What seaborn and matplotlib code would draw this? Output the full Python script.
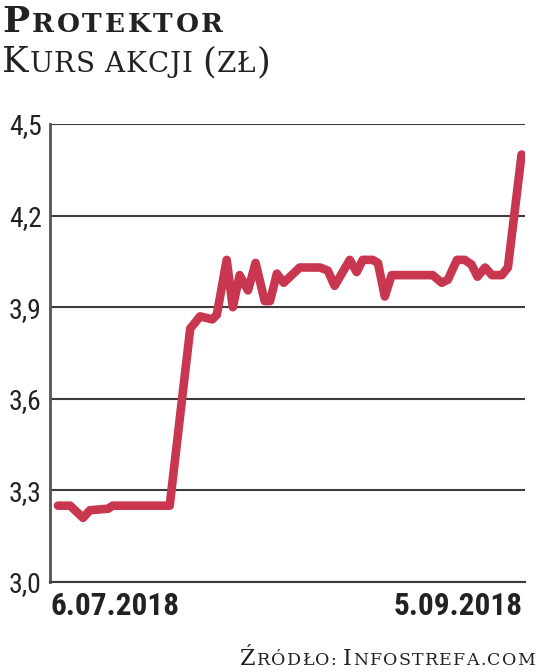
import matplotlib
matplotlib.use("Agg")
import matplotlib.pyplot as plt
import seaborn as sns
import pandas as pd

# ==========================================
# DATA  (days since 6.07.2018, share price in zl)
# ==========================================

days = [0.0, 1.6, 3.3, 4.2, 6.6, 7.2, 14.7, 17.4, 18.7, 20.3,
        20.9, 22.2, 23.0, 23.9, 25.0, 26.0, 27.2, 27.9, 28.8, 29.7,
        31.8, 34.5, 35.5, 36.4, 38.4, 39.3, 40.1, 41.4, 42.1, 43.0,
        43.9, 49.3, 50.5, 51.3, 52.5, 53.5, 54.4, 55.2, 56.2, 57.1,
        58.4, 59.2, 61.0]
price = [3.25, 3.25, 3.21, 3.235, 3.24, 3.25, 3.25, 3.83, 3.87, 3.86,
         3.875, 4.055, 3.90, 4.005, 3.955, 4.045, 3.92, 3.92, 4.01, 3.98,
         4.03, 4.03, 4.02, 3.97, 4.055, 4.015, 4.055, 4.055, 4.045, 3.935,
         4.005, 4.005, 3.98, 3.99, 4.055, 4.055, 4.04, 4.0, 4.03, 4.005,
         4.005, 4.03, 4.40]

y_ticks = [3.0, 3.3, 3.6, 3.9, 4.2, 4.5]
date_first = "6.07.2018"
date_last = "5.09.2018"

df = pd.DataFrame({"day": days, "price": price})

# ==========================================
# STYLE
# ==========================================

sns.set_style("white")
NARROW = ["Roboto Condensed", "DejaVu Sans"]
SERIF = ["DejaVu Serif"]
LINE_RED = "#c8364f"
GRID = "#3c3c3c"
INK = "#222222"

W, H = 536, 672
fig = plt.figure(figsize=(W / 100, H / 100), dpi=100)
ax = fig.add_axes([50 / W, 1 - 582 / H, 475 / W, 458 / H])

sns.lineplot(data=df, x="day", y="price", ax=ax, color=LINE_RED,
             linewidth=6.2, solid_capstyle="round", solid_joinstyle="round",
             zorder=3)

ax.set_xlim(-1.05, 61.45)
ax.set_ylim(3.0, 4.5)
ax.set_yticks(y_ticks)
ax.set_yticklabels([f"{v:.1f}".replace(".", ",") for v in y_ticks],
                   family=NARROW, stretch="condensed", fontsize=20, color=INK)
ax.set_xticks([])
ax.tick_params(axis="both", length=0)
ax.tick_params(axis="y", pad=6)
ax.set_xlabel("")
ax.set_ylabel("")

# first / last date under the axis ends
date_style = dict(xycoords="axes fraction", textcoords="offset pixels",
                  va="top", family=NARROW, stretch="condensed",
                  fontsize=22.5, fontweight="bold", color=INK)
ax.annotate(date_first, xy=(0, 0), xytext=(1, -9), ha="left", **date_style)
ax.annotate(date_last, xy=(1, 0), xytext=(-2, -9), ha="right", **date_style)

ax.grid(axis="y", color=GRID, linewidth=1.5)
ax.set_axisbelow(True)
for side in ["top", "right"]:
    ax.spines[side].set_visible(False)
ax.spines["left"].set_color("#555555")
ax.spines["left"].set_linewidth(2)
ax.spines["bottom"].set_color(GRID)
ax.spines["bottom"].set_linewidth(1.5)

# ==========================================
# SMALL CAPS TEXT (title, subtitle, source)
# ==========================================

renderer = fig.canvas.get_renderer()


def small_caps(parts, x, y, big, small, width, weight="normal", align="left"):
    # parts: list of (text, is_big); x, y in pixels from top-left, y = baseline
    # letters are spread so the whole line is `width` pixels wide
    items = []
    natural = 0
    gaps = 0
    for txt, is_big in parts:
        size = big if is_big else small
        for ch in txt:
            if ch == " ":
                items.append((None, size * 0.45))
                natural += size * 0.45
                continue
            t = fig.text(0, 0, ch, fontsize=size, family=SERIF,
                         fontweight=weight, color=INK,
                         va="baseline", ha="left")
            w = t.get_window_extent(renderer).width
            items.append((t, w))
            natural += w
            gaps += 1
    track = (width - natural) / max(gaps - 1, 1)
    cur = x - width if align == "right" else x
    for t, w in items:
        if t is None:
            cur += w
            continue
        t.set_position((cur / W, 1 - y / H))
        cur += w + track


small_caps([("P", True), ("ROTEKTOR", False)], 2, 32, 26, 19, 221,
           weight="bold")
small_caps([("K", True), ("URS AKCJI ", False), ("(", True), ("ZŁ", False),
            (")", True)], 2, 72, 25.5, 20, 268)
small_caps([("Ź", True), ("RÓDŁO: ", False), ("I", True),
            ("NFOSTREFA.COM", False)], 535, 665, 16, 12.5, 295, align="right")

fig.savefig("out.png", dpi=100)
